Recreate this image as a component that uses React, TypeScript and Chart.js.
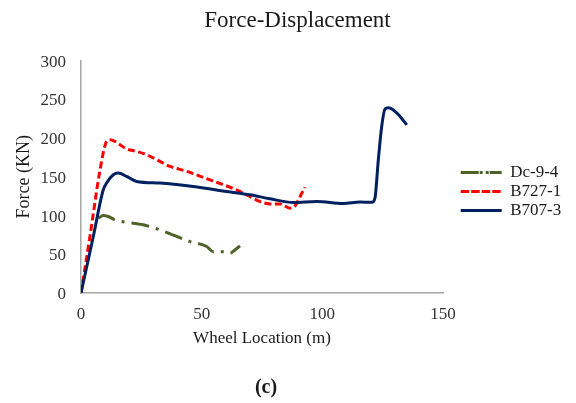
import { useEffect, useRef } from 'react';
import { Chart, registerables } from 'chart.js';

Chart.register(...registerables);

const TITLE = 'Force-Displacement';
const SUBTITLE = '(c)';
const X_TITLE = 'Wheel Location (m)';
const Y_TITLE = 'Force (KN)';
const SERIES_NAMES = ['Dc-9-4', 'B727-1', 'B707-3'];

const X_MIN = 0;
const X_MAX = 150;
const X_STEP = 50;
const Y_MIN = 0;
const Y_MAX = 300;
const Y_STEP = 50;

const DC94_X = [7.2, 9.2, 11.3, 14.1, 25.8, 32.7, 45.2, 52.1, 54.8, 59, 61.7, 63.8, 65.9];
const DC94_Y = [96.6, 100, 98.8, 94.4, 88, 81.5, 66.4, 60, 53.4, 53.4, 51.3, 55.6, 60.8];

const B7271_X = [0, 3.7, 7.9, 10.6, 12, 14.1, 18.9, 23, 27.2, 36.9, 43.8, 53.5, 64.5, 70, 74.2, 78.3, 82.4, 86.6, 88.7, 90.8, 92.8];
const B7271_Y = [0, 73, 159, 195.7, 197.9, 195.7, 185.9, 182.8, 178.5, 163.4, 157, 146, 133, 124.6, 118, 115, 115, 109.5, 112.5, 124.6, 136.7];

const B7073_X = [0, 5.1, 9.2, 10.6, 13.4, 15.5, 18.9, 23, 32.7, 46.5, 60.4, 70, 78.3, 88, 97.7, 108.7, 115.6, 120.5, 121.8, 123.2, 124.6, 126, 127.4, 130.8, 135];
const B7073_Y = [0, 72.9, 133, 142, 152.6, 154.8, 150.5, 144, 141.9, 137.5, 131, 126.8, 121.6, 116.8, 118.1, 115.5, 117.4, 117, 122.5, 172, 215, 237.6, 239, 232.5, 217];

const FONT = "'Times New Roman', 'Liberation Serif', serif";

export default function App() {
  const ref = useRef<HTMLCanvasElement>(null);

  useEffect(() => {
    if (!ref.current) return;
    const pts = (xs: number[], ys: number[]) => xs.map((x, i) => ({ x, y: ys[i] }));

    const placeBoxes = {
      id: 'placeBoxes',
      afterLayout(chart: any) {
        const t = chart.titleBlock;
        if (t) {
          const dx = 297.5 - (t.left + t.right) / 2;
          t.left += dx;
          t.right += dx;
          t.top += 1;
          t.bottom += 1;
        }
        const s = chart.boxes.find((b: any) => b !== t && b.options && b.options.text === SUBTITLE);
        if (s) {
          const dx = 266 - (s.left + s.right) / 2;
          s.left += dx;
          s.right += dx;
          s.top += 1.5;
          s.bottom += 1.5;
        }
        const lg = chart.legend;
        if (lg) {
          lg.left = 458.7;
          lg.right = lg.left + 117;
          lg.width = 117;
          lg.top = 162;
          lg.bottom = lg.top + 100;
          lg.height = 100;
        }
      },
    };

    const common = {
      showLine: true,
      fill: false,
      pointRadius: 0,
      pointHoverRadius: 0,
      borderWidth: 3,
      tension: 0.4,
      cubicInterpolationMode: 'monotone' as const,
    };

    const chart = new Chart(ref.current, {
      type: 'scatter',
      data: {
        datasets: [
          {
            ...common,
            label: SERIES_NAMES[0],
            data: pts(DC94_X, DC94_Y),
            borderColor: '#4F6228',
            backgroundColor: '#4F6228',
            borderDash: [18, 7, 3, 7],
            order: 3,
          },
          {
            ...common,
            label: SERIES_NAMES[1],
            data: pts(B7271_X, B7271_Y),
            borderColor: '#FF0000',
            backgroundColor: '#FF0000',
            borderDash: [7, 3.5],
            order: 2,
          },
          {
            ...common,
            label: SERIES_NAMES[2],
            data: pts(B7073_X, B7073_Y),
            borderColor: '#002060',
            backgroundColor: '#002060',
            order: 1,
          },
        ],
      },
      options: {
        responsive: false,
        animation: false,
        layout: { padding: { left: 0, right: 133, top: 0, bottom: 0 } },
        plugins: {
          title: {
            display: true,
            text: TITLE,
            color: '#1a1a1a',
            font: { family: FONT, size: 23, weight: 'normal' },
            padding: { top: 6, bottom: 27 },
          },
          subtitle: {
            display: true,
            text: SUBTITLE,
            position: 'bottom',
            color: '#1a1a1a',
            font: { family: FONT, size: 20, weight: 'bold' },
            padding: { top: 25, bottom: 5 },
          },
          legend: {
            position: 'chartArea',
            align: 'start',
            labels: {
              boxWidth: 41,
              boxHeight: 0,
              padding: 2,
              color: '#1a1a1a',
              font: { family: FONT, size: 17 },
              sort: (a: any, b: any) => a.datasetIndex - b.datasetIndex,
            },
          },
          tooltip: { enabled: false },
        },
        scales: {
          x: {
            type: 'linear',
            min: X_MIN,
            max: X_MAX,
            ticks: { stepSize: X_STEP, padding: 11, color: '#333333', font: { family: FONT, size: 17 } },
            grid: { display: false, drawTicks: false },
            border: { display: true, color: '#a6a6a6', width: 1.5 },
            title: {
              display: true,
              text: X_TITLE,
              color: '#1a1a1a',
              font: { family: FONT, size: 17 },
              padding: { top: 0, bottom: 0 },
            },
            afterFit: (s: any) => {
              s.height = 56;
            },
          },
          y: {
            type: 'linear',
            min: Y_MIN,
            max: Y_MAX,
            ticks: { stepSize: Y_STEP, padding: 15, labelOffset: 1.5, color: '#333333', font: { family: FONT, size: 17 } },
            grid: { display: false, drawTicks: false },
            border: { display: true, color: '#a6a6a6', width: 1.5 },
            title: {
              display: true,
              text: Y_TITLE,
              color: '#1a1a1a',
              font: { family: FONT, size: 18 },
              padding: { top: 13, bottom: 0 },
            },
            afterFit: (s: any) => {
              s.width = 81;
            },
          },
        },
      },
      plugins: [placeBoxes],
    } as any);

    return () => chart.destroy();
  }, []);

  return (
    <div style={{ position: 'absolute', left: 0, top: 0, width: 576, height: 403, background: '#fff' }}>
      <canvas ref={ref} width={576} height={403} />
    </div>
  );
}
